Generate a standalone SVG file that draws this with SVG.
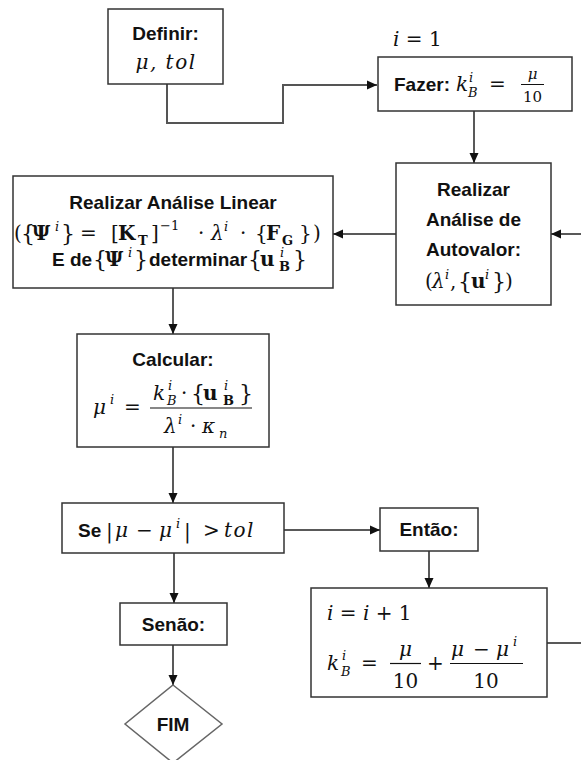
<svg xmlns="http://www.w3.org/2000/svg" width="581" height="760" viewBox="0 0 581 760">
<style>
.box{fill:#fff;stroke:#333;stroke-width:1.5}
.dia{fill:#fff;stroke:#666;stroke-width:1.5}
.lbl{font-family:"Liberation Sans",Arial,sans-serif;font-weight:bold;font-size:19px;fill:#111}
.m{font-family:"DejaVu Serif",serif;font-size:20px;fill:#111}
.it{font-style:italic}
.bd{font-weight:bold}
.sm{font-size:13px}
.fr{font-size:15px}
.br{font-size:22px}
.tol{letter-spacing:1.5px}
.conn{fill:none;stroke:#222;stroke-width:1.5}
.conn2{fill:none;stroke:#555;stroke-width:2}
.mid{text-anchor:middle}
</style>
<defs>
<marker id="ah" viewBox="0 0 10 10" refX="10" refY="5" markerWidth="10" markerHeight="10" markerUnits="userSpaceOnUse" orient="auto"><path d="M0,0.5 L10,5 L0,9.5 z" fill="#111"/></marker>
</defs>

<g id="connectors">
<polyline class="conn2" points="167,84 167,123 283,123 283,85 377,85" marker-end="url(#ah)"/>
<line class="conn" x1="474" y1="111" x2="474" y2="163" marker-end="url(#ah)"/>
<line class="conn" x1="581" y1="234" x2="551" y2="234" marker-end="url(#ah)"/>
<line class="conn" x1="396" y1="234" x2="333" y2="234" marker-end="url(#ah)"/>
<line class="conn" x1="173" y1="288" x2="173" y2="334" marker-end="url(#ah)"/>
<line class="conn" x1="173" y1="447" x2="173" y2="503" marker-end="url(#ah)"/>
<line class="conn" x1="284" y1="530" x2="380" y2="530" marker-end="url(#ah)"/>
<line class="conn" x1="429" y1="551" x2="429" y2="588" marker-end="url(#ah)"/>
<line class="conn" x1="174" y1="553" x2="174" y2="603" marker-end="url(#ah)"/>
<line class="conn" x1="173" y1="645" x2="173" y2="685" marker-end="url(#ah)"/>
<line class="conn" x1="547" y1="643" x2="581" y2="643"/>
</g>

<g id="definir">
<rect class="box" x="108" y="9" width="115" height="75"/>
<text class="lbl mid" x="165.5" y="40">Definir:</text>
<text class="m it mid tol" x="166" y="69">μ, tol</text>
</g>

<g id="fazer">
<text class="m" x="393" y="46"><tspan class="it">i</tspan> = 1</text>
<rect class="box" x="378" y="57" width="194" height="54"/>
<text class="lbl" x="394" y="91">Fazer:</text>
<text class="m it" x="456" y="91">k</text>
<text class="m it sm" x="469" y="82">i</text>
<text class="m it sm" x="468" y="97">B</text>
<text class="m" x="489" y="91">=</text>
<line x1="521" y1="84.5" x2="544" y2="84.5" stroke="#111" stroke-width="1"/>
<text class="m it fr mid" x="532.5" y="79">μ</text>
<text class="m fr mid" x="532.5" y="102">10</text>
</g>

<g id="autovalor">
<rect class="box" x="396" y="163" width="155" height="142"/>
<text class="lbl mid" x="473.5" y="196">Realizar</text>
<text class="lbl mid" x="473.5" y="226">Análise de</text>
<text class="lbl mid" x="473.5" y="256">Autovalor:</text>
<text class="m" x="425" y="288">(</text>
<text class="m it" x="432" y="288">λ</text>
<text class="m it sm" x="445" y="279">i</text>
<text class="m" x="450" y="288">,</text>
<text class="m br" x="458" y="289">{</text>
<text class="m bd" x="471" y="288">u</text>
<text class="m it sm" x="485" y="279">i</text>
<text class="m br" x="492" y="289">}</text>
<text class="m" x="505" y="288">)</text>
</g>

<g id="linear">
<rect class="box" x="13" y="176" width="320" height="112"/>
<text class="lbl mid" x="173" y="209">Realizar Análise Linear</text>
<text class="m" x="14" y="240">(</text>
<text class="m br" x="21" y="241">{</text>
<text class="m bd" x="32" y="240">Ψ</text>
<text class="m it sm" x="55" y="231">i</text>
<text class="m br" x="61" y="241">}</text>
<text class="m" x="80" y="240">=</text>
<text class="m" x="111" y="240">[</text>
<text class="m bd" x="118" y="240">K</text>
<text class="m bd sm" x="138" y="245">T</text>
<text class="m" x="151" y="240">]</text>
<text class="m sm" x="160" y="230">−1</text>
<text class="m" x="198" y="240">·</text>
<text class="m it" x="211" y="240">λ</text>
<text class="m it sm" x="224" y="231">i</text>
<text class="m" x="240" y="240">·</text>
<text class="m" x="255" y="240">{</text>
<text class="m bd" x="266" y="240">F</text>
<text class="m bd sm" x="282" y="245">G</text>
<text class="m" x="299" y="240">}</text>
<text class="m" x="313" y="240">)</text>
<text class="lbl" x="52" y="266">E de</text>
<text class="m br" x="93" y="267">{</text>
<text class="m bd" x="105" y="266">Ψ</text>
<text class="m it sm" x="128" y="257">i</text>
<text class="m br" x="134" y="267">}</text>
<text class="lbl" x="149" y="266">determinar</text>
<text class="m br" x="248" y="267">{</text>
<text class="m bd" x="260" y="266">u</text>
<text class="m it sm" x="280" y="257">i</text>
<text class="m bd sm" x="279" y="271">B</text>
<text class="m br" x="293" y="267">}</text>
</g>

<g id="calcular">
<rect class="box" x="77" y="334" width="192" height="113"/>
<text class="lbl mid" x="173" y="366">Calcular:</text>
<text class="m it" x="93" y="414">μ</text>
<text class="m it sm" x="110" y="404">i</text>
<text class="m" x="124" y="414">=</text>
<line x1="150" y1="408" x2="252" y2="408" stroke="#111" stroke-width="1.2"/>
<text class="m it" x="153" y="400">k</text>
<text class="m it sm" x="168" y="390">i</text>
<text class="m it sm" x="167" y="405">B</text>
<text class="m" x="181" y="400">·</text>
<text class="m br" x="191" y="401">{</text>
<text class="m bd" x="203" y="400">u</text>
<text class="m it sm" x="224" y="390">i</text>
<text class="m bd sm" x="223" y="405">B</text>
<text class="m br" x="239" y="401">}</text>
<text class="m it" x="164" y="433">λ</text>
<text class="m it sm" x="178" y="424">i</text>
<text class="m" x="190" y="433">·</text>
<text class="m it" x="202" y="433">κ</text>
<text class="m it sm" x="219" y="438">n</text>
</g>

<g id="se">
<rect class="box" x="62" y="503" width="222" height="50"/>
<text class="lbl" x="78" y="537">Se</text>
<text class="m" x="106" y="538">|</text>
<text class="m it" x="115" y="537">μ</text>
<text class="m" x="136" y="537">−</text>
<text class="m it" x="159" y="537">μ</text>
<text class="m it sm" x="176" y="528">i</text>
<text class="m" x="184" y="538">|</text>
<text class="m" x="203" y="537">&gt;</text>
<text class="m it tol" x="224" y="537">tol</text>
</g>

<g id="entao">
<rect class="box" x="380" y="508" width="98" height="43"/>
<text class="lbl mid" x="429" y="536">Então:</text>
</g>

<g id="atualizar">
<rect class="box" x="311" y="588" width="236" height="109"/>
<text class="m" x="327" y="620"><tspan class="it">i</tspan> = <tspan class="it">i</tspan> + 1</text>
<text class="m it" x="327" y="670">k</text>
<text class="m it sm" x="342" y="660">i</text>
<text class="m it sm" x="341" y="676">B</text>
<text class="m" x="361" y="670">=</text>
<line x1="390" y1="663.5" x2="421" y2="663.5" stroke="#111" stroke-width="1.2"/>
<text class="m it mid" x="405.5" y="656">μ</text>
<text class="m mid" x="405.5" y="688">10</text>
<text class="m" x="427" y="670">+</text>
<line x1="450" y1="663.5" x2="523" y2="663.5" stroke="#111" stroke-width="1.2"/>
<text class="m it" x="451" y="656">μ</text>
<text class="m" x="473" y="656">−</text>
<text class="m it" x="496" y="656">μ</text>
<text class="m it sm" x="513" y="646">i</text>
<text class="m mid" x="486" y="688">10</text>
</g>

<g id="senao">
<rect class="box" x="120" y="603" width="107" height="42"/>
<text class="lbl mid" x="173.5" y="631">Senão:</text>
</g>

<g id="fim">
<polygon class="dia" points="173,685 222,724 173,763 125,724"/>
<text class="lbl mid" x="173" y="731">FIM</text>
</g>
</svg>
